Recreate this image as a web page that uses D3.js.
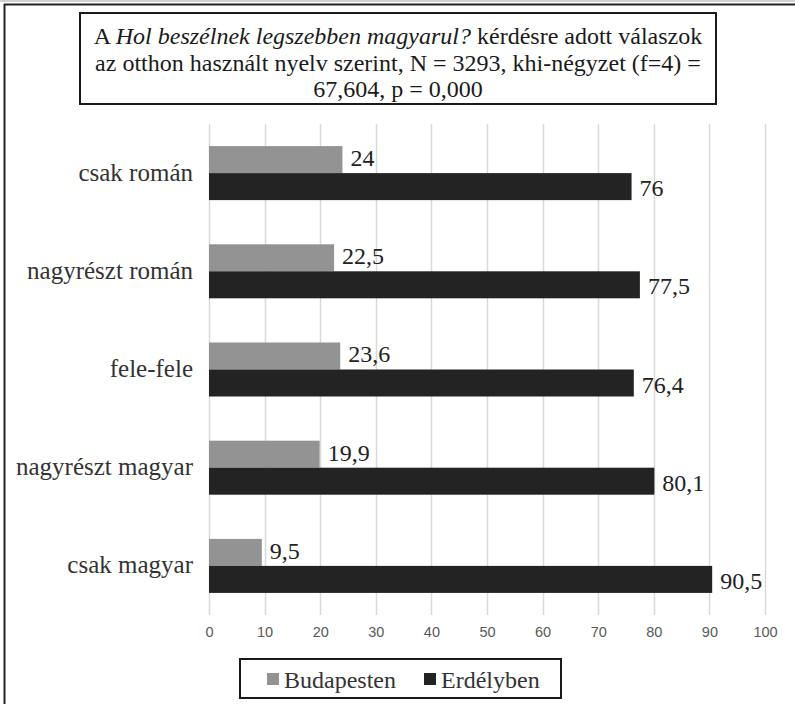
<!DOCTYPE html>
<html>
<head>
<meta charset="utf-8">
<script src="https://cdn.jsdelivr.net/npm/d3@7"></script>
<style>
  html, body { margin: 0; padding: 0; background: #fff; }
  svg { display: block; }
  .serif { font-family: "Liberation Serif", "Times New Roman", Tinos, "DejaVu Serif", serif; }
  .sans { font-family: "Liberation Sans", Arial, Arimo, sans-serif; }
</style>
</head>
<body>
<svg id="chart" width="795" height="704"></svg>
<script>
// Answers by language used at home
const categories = ["csak román", "nagyrészt román", "fele-fele", "nagyrészt magyar", "csak magyar"];
const budapesten = [24, 22.5, 23.6, 19.9, 9.5];
const erdelyben = [76, 77.5, 76.4, 80.1, 90.5];
const seriesNames = ["Budapesten", "Erdélyben"];
const seriesColors = ["#939393", "#232323"];
const xTicks = [0, 10, 20, 30, 40, 50, 60, 70, 80, 90, 100];

const svg = d3.select("#chart");

// outer frame (top and left edges)
svg.append("rect").attr("x", 0).attr("y", 0).attr("width", 795).attr("height", 2).attr("fill", "#d0d0d0");
svg.append("line").attr("x1", 4).attr("x2", 795).attr("y1", 4.5).attr("y2", 4.5)
  .attr("stroke", "#222").attr("stroke-width", 2);
svg.append("line").attr("x1", 4.5).attr("x2", 4.5).attr("y1", 4).attr("y2", 704)
  .attr("stroke", "#222").attr("stroke-width", 2);

// scales
const x = d3.scaleLinear().domain([0, 100]).range([209, 765]);
const y = d3.scaleBand().domain(categories).range([124, 615]).paddingInner(0.45).paddingOuter(0.225);
const sub = d3.scaleBand().domain(seriesNames).range([0, y.bandwidth()]);

// gridlines
svg.append("g").selectAll("line").data(xTicks).join("line")
  .attr("x1", d => Math.round(x(d)) + 0.5).attr("x2", d => Math.round(x(d)) + 0.5)
  .attr("y1", 124).attr("y2", 615)
  .attr("stroke", "#d9d9d9").attr("stroke-width", 1.5);

// x axis labels
const xAxis = d3.axisBottom(x).tickValues(xTicks).tickSize(0).tickPadding(0).tickFormat(d3.format("d"));
const gx = svg.append("g").attr("transform", "translate(0,627)").call(xAxis);
gx.attr("font-family", null).attr("font-size", null);
gx.select(".domain").remove();
gx.selectAll("text").attr("class", "sans").attr("font-size", 14.5).attr("fill", "#595959");

// bars
const series = [budapesten, erdelyben];
series.forEach((vals, si) => {
  const g = svg.append("g");
  g.selectAll("rect").data(categories).join("rect")
    .attr("x", x(0))
    .attr("y", c => y(c) + sub(seriesNames[si]))
    .attr("width", (c, i) => x(vals[i]) - x(0))
    .attr("height", sub.bandwidth())
    .attr("fill", seriesColors[si]);
  g.selectAll("text").data(categories).join("text")
    .attr("class", "serif")
    .attr("x", (c, i) => x(vals[i]) + 8)
    .attr("y", c => y(c) + sub(seriesNames[si]) + sub.bandwidth() / 2 + (si === 0 ? 1 : 4))
    .attr("dominant-baseline", "middle")
    .attr("font-size", 24).attr("fill", "#222")
    .text((c, i) => String(vals[i]).replace(".", ","));
});

// category labels
const yAxis = d3.axisLeft(y).tickSize(0).tickPadding(0);
const gy = svg.append("g").attr("transform", "translate(193,0)").call(yAxis);
gy.attr("font-family", null).attr("font-size", null);
gy.select(".domain").remove();
gy.selectAll("text").attr("class", "serif").attr("font-size", 25).attr("fill", "#333")
  .attr("dy", "0.3em");

// title box
svg.append("rect").attr("x", 80).attr("y", 13).attr("width", 636).attr("height", 91)
  .attr("fill", "#fff").attr("stroke", "#1a1a1a").attr("stroke-width", 2);
const title = svg.append("text").attr("class", "serif").attr("font-size", 24).attr("fill", "#1a1a1a")
  .attr("text-anchor", "middle");
const l1 = title.append("tspan").attr("x", 398).attr("y", 44);
l1.append("tspan").text("A ");
l1.append("tspan").attr("font-style", "italic").text("Hol beszélnek legszebben magyarul?");
l1.append("tspan").text(" kérdésre adott válaszok");
title.append("tspan").attr("x", 398).attr("y", 71).text("az otthon használt nyelv szerint, N = 3293, khi-négyzet (f=4) =");
title.append("tspan").attr("x", 398).attr("y", 97).text("67,604, p = 0,000");

// legend
svg.append("rect").attr("x", 240).attr("y", 659).attr("width", 321).attr("height", 39)
  .attr("fill", "#fff").attr("stroke", "#1a1a1a").attr("stroke-width", 2);
const legendX = [267, 424];
seriesNames.forEach((name, i) => {
  svg.append("rect").attr("x", legendX[i]).attr("y", 673).attr("width", 12).attr("height", 12)
    .attr("fill", seriesColors[i]);
  svg.append("text").attr("class", "serif").attr("x", legendX[i] + 17).attr("y", 688)
    .attr("font-size", 24).attr("fill", "#333").text(name);
});
</script>
</body>
</html>
